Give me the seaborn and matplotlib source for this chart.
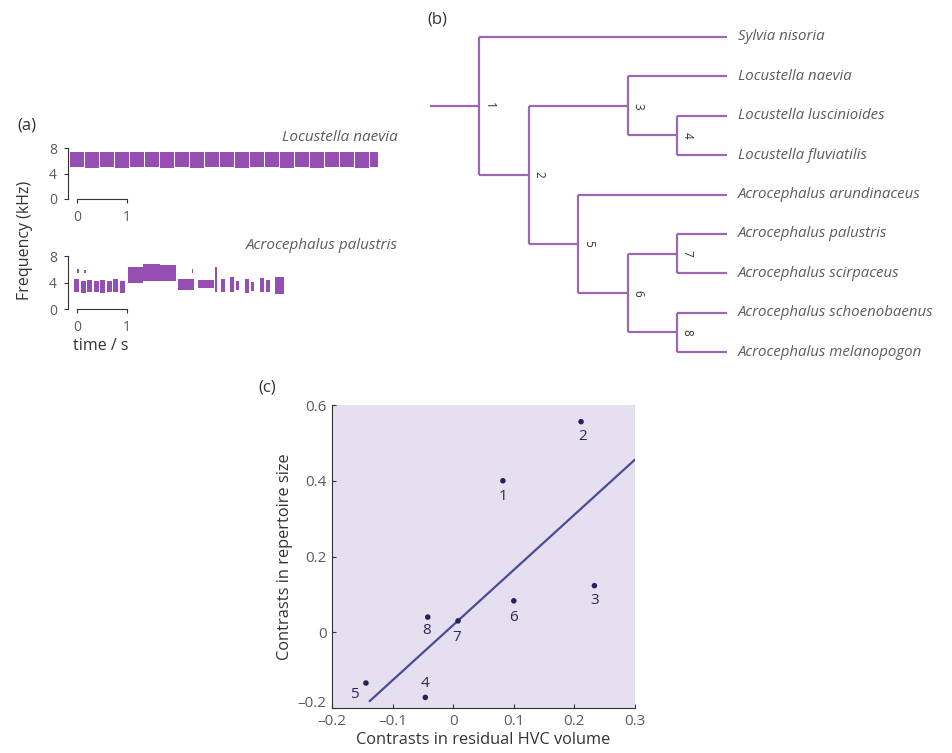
import numpy as np
import pandas as pd
import matplotlib.pyplot as plt
import matplotlib.transforms as mtransforms
import seaborn as sns

# figure size in pixels (saved at dpi=100)
W, H = 953, 753

# ---- (a) spectrogram blocks: time (s) and frequency (kHz)
naevia_start = [-0.14, 0.17, 0.47, 0.77, 1.07, 1.37, 1.67, 1.97, 2.27, 2.57, 2.87,
                3.17, 3.47, 3.77, 4.07, 4.37, 4.67, 4.97, 5.27, 5.57, 5.87]
naevia_dur = [0.29, 0.28, 0.28, 0.28, 0.28, 0.28, 0.28, 0.28, 0.28, 0.28, 0.28,
              0.28, 0.28, 0.28, 0.28, 0.28, 0.28, 0.28, 0.28, 0.28, 0.15]
naevia_low = [5.0, 4.9, 5.0, 4.9, 5.0, 5.0, 4.9, 5.0, 4.9, 5.0, 5.0,
              4.9, 5.0, 5.0, 4.9, 5.0, 4.9, 5.0, 5.0, 4.9, 5.0]
naevia_high = [7.4, 7.4, 7.3, 7.4, 7.4, 7.4, 7.3, 7.4, 7.4, 7.3, 7.4,
               7.4, 7.4, 7.3, 7.4, 7.4, 7.3, 7.4, 7.4, 7.3, 7.3]

palustris_start = [-0.06, 0.08, 0.21, 0.34, 0.47, 0.60, 0.73, 0.86, 0.00, 0.14,
                   1.02, 1.32, 1.66, 2.02, 2.30, 2.42, 2.76,
                   2.89, 3.06, 3.19, 3.36, 3.49, 3.66, 3.79, 3.96]
palustris_dur = [0.10, 0.10, 0.10, 0.10, 0.10, 0.10, 0.10, 0.10, 0.04, 0.04,
                 0.31, 0.35, 0.32, 0.32, 0.03, 0.32, 0.04,
                 0.07, 0.08, 0.06, 0.08, 0.06, 0.08, 0.07, 0.18]
palustris_low = [2.6, 2.4, 2.5, 2.5, 2.4, 2.6, 2.5, 2.4, 5.5, 5.4,
                 4.0, 4.2, 4.3, 2.8, 5.4, 3.1, 2.6,
                 2.6, 2.5, 2.8, 2.4, 2.7, 2.5, 2.6, 2.2]
palustris_high = [4.6, 4.3, 4.4, 4.2, 4.4, 4.3, 4.5, 4.3, 6.0, 5.9,
                  6.4, 6.8, 6.6, 4.5, 6.0, 4.4, 6.3,
                  4.5, 4.8, 4.2, 4.6, 4.1, 4.7, 4.4, 4.9]

# ---- (b) phylogeny
tip_names = ['Sylvia nisoria', 'Locustella naevia', 'Locustella luscinioides',
             'Locustella fluviatilis', 'Acrocephalus arundinaceus',
             'Acrocephalus palustris', 'Acrocephalus scirpaceus',
             'Acrocephalus schoenobaenus', 'Acrocephalus melanopogon']
node_ids = [1, 2, 3, 4, 5, 6, 7, 8]
node_depth = [1, 2, 4, 5, 3, 4, 5, 5]
node_children = [['Sylvia nisoria', 2], [3, 5], ['Locustella naevia', 4],
                 ['Locustella luscinioides', 'Locustella fluviatilis'],
                 ['Acrocephalus arundinaceus', 6], [7, 8],
                 ['Acrocephalus palustris', 'Acrocephalus scirpaceus'],
                 ['Acrocephalus schoenobaenus', 'Acrocephalus melanopogon']]
tip_depth = 6

# ---- (c) independent contrasts
hvc_contrast = [0.082, 0.211, 0.233, -0.046, -0.144, 0.100, 0.008, -0.042]
rep_contrast = [0.400, 0.556, 0.123, -0.172, -0.134, 0.083, 0.030, 0.040]
contrast_id = ['1', '2', '3', '4', '5', '6', '7', '8']
fit_x = [-0.138, 0.300]
fit_y = [-0.182, 0.456]

spec_col = '#8d3fad'
tree_col = '#9c68b6'
grey = '#5c5c5c'
dark = '#333333'

sns.set_style('ticks')
plt.rcParams['font.family'] = ['Open Sans', 'DejaVu Sans']

fig = plt.figure(figsize=(W / 100, H / 100), dpi=100)


def px_axes(left, top, right, bottom):
    return fig.add_axes([left / W, 1 - bottom / H, (right - left) / W, (bottom - top) / H])


# ---------------- (a)
def spectro(ax, start, dur, low, high, title):
    heights = [h - l for h, l in zip(high, low)]
    ax.bar(start, heights, width=dur, bottom=low, align='edge', color=spec_col,
           edgecolor='none', alpha=0.92)
    ax.set_xlim(-0.18, 6.42)
    ax.set_ylim(0, 8)
    ax.set_yticks([0, 4, 8])
    ax.set_xticks([0, 1])
    sns.despine(ax=ax, right=True, top=True)
    ax.spines['bottom'].set_bounds(0, 1)
    for s in ['left', 'bottom']:
        ax.spines[s].set_color(dark)
        ax.spines[s].set_linewidth(0.8)
    ax.tick_params(axis='both', length=3, width=0.8, color=dark, labelcolor=grey,
                   labelsize=10, pad=5)
    ax.set_facecolor('none')
    ax.set_title(title, loc='right', style='italic', fontsize=11, color=grey, pad=5)


ax_a1 = px_axes(68, 148, 398, 199)
spectro(ax_a1, naevia_start, naevia_dur, naevia_low, naevia_high, 'Locustella naevia')
ax_a2 = px_axes(68, 256, 398, 309)
spectro(ax_a2, palustris_start, palustris_dur, palustris_low, palustris_high,
        'Acrocephalus palustris')
ax_a2.set_xlabel('time / s', fontsize=11.5, color=dark)
ax_a2.xaxis.set_label_coords(0.1, -0.55)

fig.text(25 / W, 1 - 240 / H, 'Frequency (kHz)', rotation=90, ha='center', va='center',
         fontsize=11.5, color=dark)
fig.text(27 / W, 1 - 125 / H, '(a)', ha='center', va='center', fontsize=12, color=dark)

# ---------------- (b)
ax_b = px_axes(430, 37, 727, 352)
ax_b.set_xlim(0, tip_depth)
ax_b.set_ylim(len(tip_names) - 1, 0)
ax_b.axis('off')

tip_y = {name: i for i, name in enumerate(tip_names)}
node_pos = {}


def place(node):
    k = node_ids.index(node)
    ys = []
    for ch in node_children[k]:
        if isinstance(ch, str):
            ys.append(tip_y[ch])
        else:
            ys.append(place(ch))
    node_pos[node] = (node_depth[k], float(np.mean(ys)))
    return node_pos[node][1]


place(1)
line_kw = dict(color=tree_col, lw=1.6, solid_capstyle='butt', clip_on=False)
for node in node_ids:
    k = node_ids.index(node)
    x0, y0 = node_pos[node]
    ys = []
    for ch in node_children[k]:
        if isinstance(ch, str):
            x1, y1 = tip_depth, tip_y[ch]
        else:
            x1, y1 = node_pos[ch]
        ax_b.plot([x0, x1], [y1, y1], **line_kw)
        ys.append(y1)
    ax_b.plot([x0, x0], [min(ys), max(ys)], **line_kw)
    ax_b.annotate(str(node), (x0, y0), xytext=(7, 0), textcoords='offset points',
                  rotation=-90, ha='center', va='center', fontsize=8.5, color=dark)
ax_b.plot([0, node_pos[1][0]], [node_pos[1][1]] * 2, **line_kw)

for name, y in tip_y.items():
    ax_b.annotate(name, (tip_depth, y), xytext=(8, 0), textcoords='offset points',
                  ha='left', va='center', style='italic', fontsize=10.8, color=grey)

fig.text(437 / W, 1 - 20 / H, '(b)', ha='center', va='center', fontsize=12, color=dark)

# ---------------- (c)
df = pd.DataFrame({'hvc': hvc_contrast, 'rep': rep_contrast, 'id': contrast_id})
fit = pd.DataFrame({'hvc': fit_x, 'rep': fit_y})

ax_c = px_axes(332, 405, 635, 708)
ax_c.set_facecolor('#e6dff0')
sns.lineplot(data=fit, x='hvc', y='rep', ax=ax_c, color='#4b4b98', lw=1.6)
sns.scatterplot(data=df, x='hvc', y='rep', ax=ax_c, color='#23235e', s=16,
                edgecolor='none', zorder=3)

label_offset = {'1': (0, -11), '2': (1, -11), '3': (0, -11), '4': (0, 10),
                '5': (-8, -8), '6': (0, -12), '7': (-1, -12), '8': (-1, -10)}
for _, r in df.iterrows():
    dx, dy = label_offset[r['id']]
    ax_c.annotate(r['id'], (r['hvc'], r['rep']), xytext=(dx, dy), textcoords='offset points',
                  ha='center', va='center', fontsize=11, color='#2a2a5a')

ax_c.set_xlim(-0.2, 0.3)
ax_c.set_ylim(-0.2, 0.6)
ax_c.set_xticks([-0.2, -0.1, 0, 0.1, 0.2, 0.3])
ax_c.set_xticklabels(['\u20130.2', '\u20130.1', '0', '0.1', '0.2', '0.3'])
ax_c.set_yticks([-0.2, 0, 0.2, 0.4, 0.6])
ax_c.set_yticklabels(['\u20130.2', '0', '0.2', '0.4', '0.6'])
sns.despine(ax=ax_c)
for s in ['left', 'bottom']:
    ax_c.spines[s].set_color(dark)
    ax_c.spines[s].set_linewidth(0.8)
ax_c.tick_params(axis='both', direction='in', length=3, width=0.8, color=dark,
                 labelcolor=grey, labelsize=11)
ax_c.tick_params(axis='x', pad=4)
ax_c.tick_params(axis='y', pad=4)
# lift the lowest y label a little so it clears the x labels in the corner
low_lab = ax_c.get_yticklabels()[0]
low_lab.set_transform(low_lab.get_transform() +
                      mtransforms.ScaledTranslation(0, 5 / 72, fig.dpi_scale_trans))
ax_c.set_xlabel('Contrasts in residual HVC volume', fontsize=11.8, color=dark)
ax_c.set_ylabel('Contrasts in repertoire size', fontsize=11.8, color=dark)
ax_c.xaxis.set_label_coords(0.5, -0.08)
ax_c.yaxis.set_label_coords(-0.13, 0.5)

fig.text(267 / W, 1 - 388 / H, '(c)', ha='center', va='center', fontsize=12, color=dark)

fig.savefig('out.png', dpi=100)
